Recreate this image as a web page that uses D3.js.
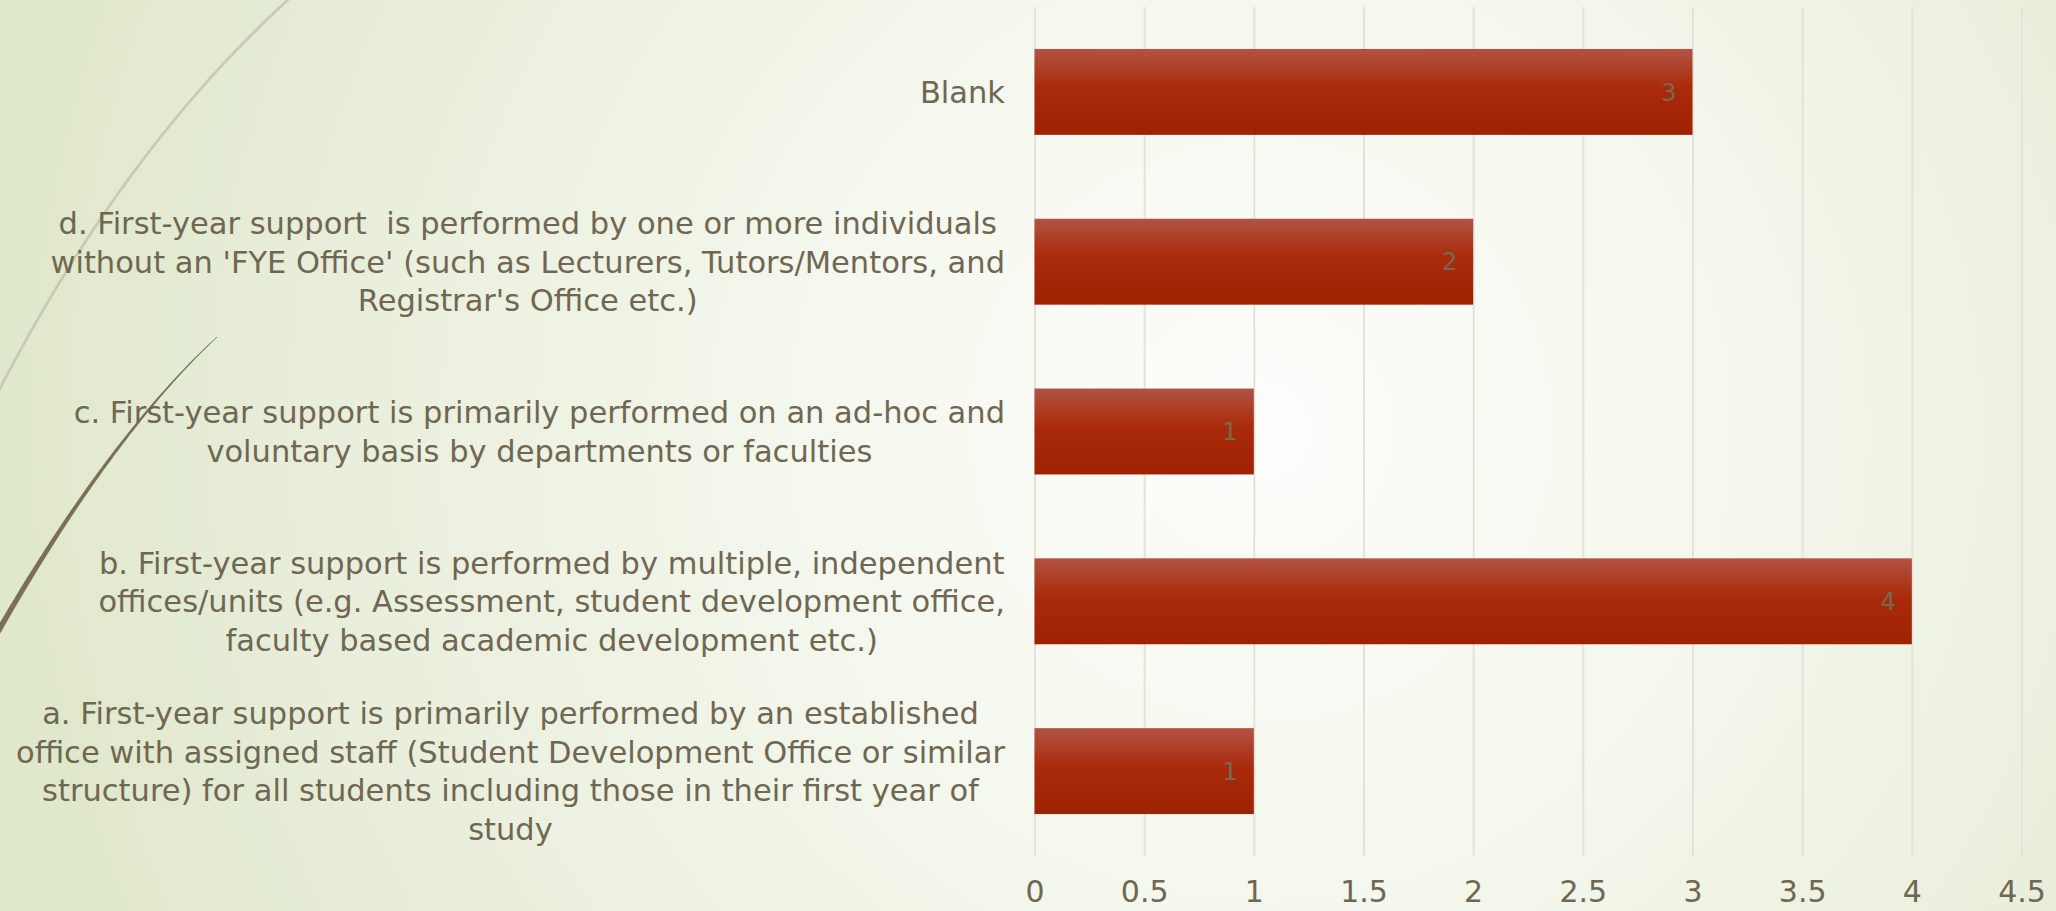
<!DOCTYPE html>
<html>
<head>
<meta charset="utf-8">
<script src="https://cdn.jsdelivr.net/npm/d3@7"></script>
<style>
  html, body { margin: 0; padding: 0; overflow: hidden; background: #f4f7ec; }
  svg { display: block; }
  text { font-family: "DejaVu Sans", "Noto Sans", sans-serif; }
</style>
</head>
<body>
<svg id="chart" width="2056" height="911"></svg>
<script>
// Survey responses: how first-year support is organised (top to bottom)
const categories = [
  "Blank",
  "d. First-year support  is performed by one or more individuals\nwithout an 'FYE Office' (such as Lecturers, Tutors/Mentors, and\nRegistrar's Office etc.)",
  "c. First-year support is primarily performed on an ad-hoc and\nvoluntary basis by departments or faculties",
  "b. First-year support is performed by multiple, independent\noffices/units (e.g. Assessment, student development office,\nfaculty based academic development etc.)",
  "a. First-year support is primarily performed by an established\noffice with assigned staff (Student Development Office or similar\nstructure) for all students including those in their first year of\nstudy"
];
const values = [3, 2, 1, 4, 1];
const tickValues = [0, 0.5, 1, 1.5, 2, 2.5, 3, 3.5, 4, 4.5];
const tickLabels = ["0", "0.5", "1", "1.5", "2", "2.5", "3", "3.5", "4", "4.5"];

const W = 2056, H = 911;
const svg = d3.select("#chart");
const defs = svg.append("defs");

// Slide background: pale green with a soft white glow in the middle
const bg = defs.append("radialGradient").attr("id", "bgGrad")
  .attr("gradientUnits", "userSpaceOnUse")
  .attr("cx", 1260).attr("cy", 430).attr("r", 1250);
bg.append("stop").attr("offset", "0").attr("stop-color", "#fdfdfb");
bg.append("stop").attr("offset", "0.35").attr("stop-color", "#f5f8ee");
bg.append("stop").attr("offset", "0.75").attr("stop-color", "#e8eedb");
bg.append("stop").attr("offset", "1").attr("stop-color", "#e0e8cb");
svg.append("rect").attr("width", W).attr("height", H).attr("fill", "url(#bgGrad)");

// Bar fill: lighter sheen at the top fading into deep red
const barGrad = defs.append("linearGradient").attr("id", "barGrad")
  .attr("x1", 0).attr("y1", 0).attr("x2", 0).attr("y2", 1);
barGrad.append("stop").attr("offset", "0").attr("stop-color", "#b15344");
barGrad.append("stop").attr("offset", "0.45").attr("stop-color", "#aa2b0b");
barGrad.append("stop").attr("offset", "1").attr("stop-color", "#9e2100");

// Decorative wisps on the left edge
function quadPoints(p0, c, p2, n) {
  const pts = [];
  for (let i = 0; i <= n; i++) {
    const t = i / n, u = 1 - t;
    pts.push([u*u*p0[0] + 2*u*t*c[0] + t*t*p2[0], u*u*p0[1] + 2*u*t*c[1] + t*t*p2[1]]);
  }
  return pts;
}
const deco = svg.append("g");
deco.append("path")
  .attr("d", d3.line().curve(d3.curveBasis)(quadPoints([290, -2], [122, 150], [-5, 398], 40)))
  .attr("fill", "none").attr("stroke", "#c7cbb4").attr("stroke-width", 2.8);

// Tapered dark wisp: thin at the top, thicker toward the slide edge
(function () {
  const pts = quadPoints([217, 337], [108, 438], [-8, 642], 60);
  const left = [], right = [];
  pts.forEach((p, i) => {
    const a = pts[Math.max(0, i - 1)], b = pts[Math.min(pts.length - 1, i + 1)];
    const dx = b[0] - a[0], dy = b[1] - a[1], len = Math.hypot(dx, dy) || 1;
    const nx = -dy / len, ny = dx / len;
    const w = 0.3 + 2.6 * (i / (pts.length - 1));
    left.push([p[0] + nx * w, p[1] + ny * w]);
    right.push([p[0] - nx * w, p[1] - ny * w]);
  });
  const poly = left.concat(right.reverse());
  deco.append("path")
    .attr("d", d3.line()(poly) + "Z")
    .attr("fill", "#7b6f55");
})();

// Scales
const x = d3.scaleLinear().domain([0, 4.5]).range([1034.5, 2021.5]);
const y = d3.scaleBand().domain(categories).range([7, 856])
  .paddingInner(0.494).paddingOuter(0.247);

// Vertical gridlines
const grid = svg.append("g")
  .attr("transform", `translate(0,${y.range()[1]})`)
  .call(d3.axisBottom(x).tickValues(tickValues)
    .tickSize(-(y.range()[1] - y.range()[0])).tickFormat(""));
grid.select(".domain").remove();
grid.selectAll(".tick line").attr("stroke", "#e3e3da").attr("stroke-width", 2);

// Tick labels along the bottom
const xAxis = svg.append("g")
  .attr("transform", `translate(0,${y.range()[1]})`)
  .call(d3.axisBottom(x).tickValues(tickValues).tickSize(0).tickPadding(0)
    .tickFormat((d, i) => tickLabels[i]));
xAxis.select(".domain").remove();
xAxis.selectAll(".tick text")
  .attr("y", 35.5).attr("dy", "0.36em")
  .attr("fill", "#706752")
  .style("font-size", "30px")
  .style("font-family", "'DejaVu Sans', sans-serif");

// Bars
const rows = categories.map((c, i) => ({ c, v: values[i] }));
svg.append("g").selectAll("rect").data(rows).join("rect")
  .attr("x", x(0))
  .attr("y", d => y(d.c))
  .attr("width", d => x(d.v) - x(0))
  .attr("height", y.bandwidth())
  .attr("fill", "url(#barGrad)");

// Value labels inside the bar ends
svg.append("g").selectAll("text").data(rows).join("text")
  .attr("x", d => x(d.v) - 16)
  .attr("y", d => y(d.c) + y.bandwidth() / 2)
  .attr("dy", "0.36em")
  .attr("text-anchor", "end")
  .attr("fill", "#766b50")
  .style("font-size", "24px")
  .text(d => d.v);

// Category labels: wrapped lines centred as a block, block flush against the axis
const labelRight = 1005;
const lineH = 38.5;
const labels = svg.append("g").selectAll("g").data(rows).join("g");
labels.each(function (d) {
  const g = d3.select(this);
  const lines = d.c.split("\n");
  const cy = y(d.c) + y.bandwidth() / 2;
  const top = cy - (lines.length - 1) * lineH / 2;
  const texts = lines.map((ln, i) => g.append("text")
    .attr("y", top + i * lineH)
    .attr("dy", "0.36em")
    .attr("text-anchor", "middle")
    .attr("fill", "#706752")
    .style("font-size", "30.5px")
    .style("white-space", "pre")
    .text(ln));
  const maxW = d3.max(texts, t => t.node().getComputedTextLength());
  texts.forEach(t => t.attr("x", labelRight - maxW / 2));
});
</script>
</body>
</html>
